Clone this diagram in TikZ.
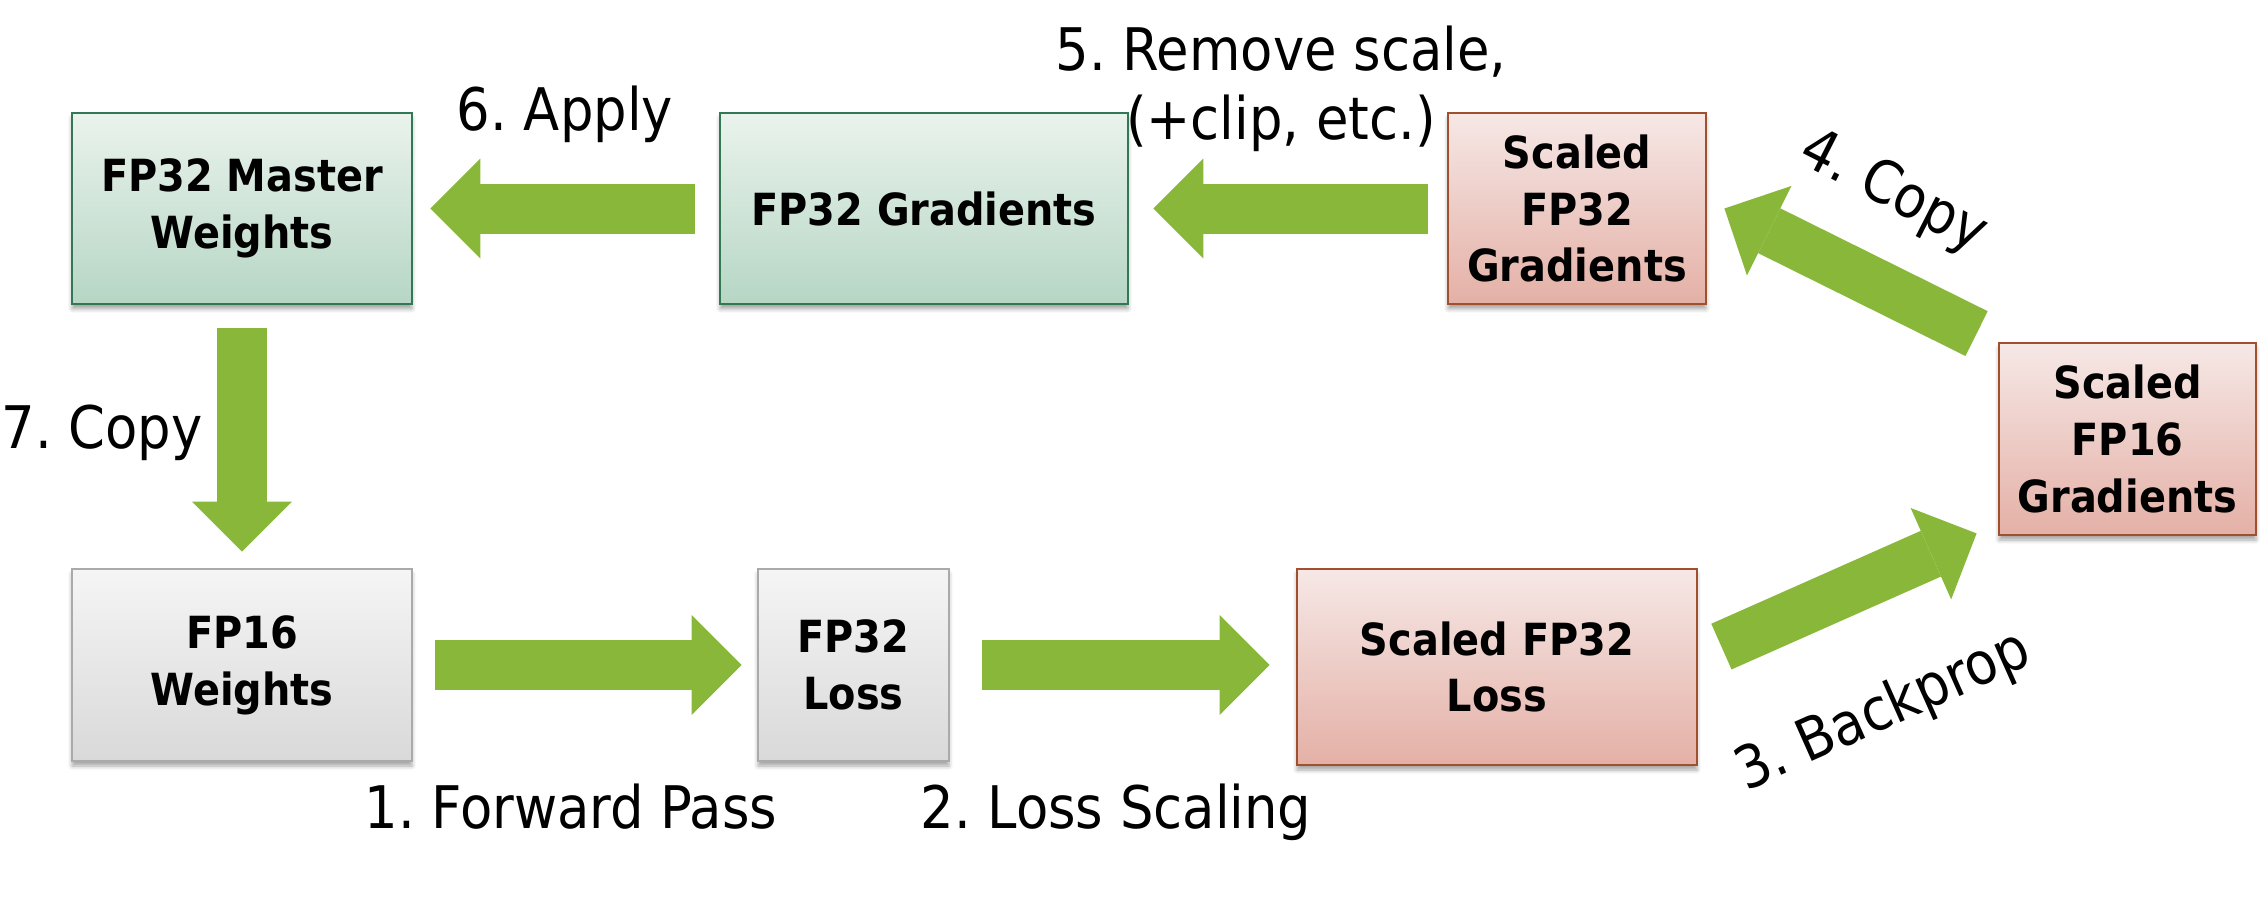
\documentclass[tikz,border=0pt]{standalone}
\usepackage{fontspec}
\setmainfont{DejaVu Sans Condensed}
\usetikzlibrary{arrows.meta,calc,shadows.blur}

\definecolor{arrowgreen}{RGB}{137,183,58}
\definecolor{greentop}{RGB}{234,243,237}
\definecolor{greenbot}{RGB}{182,214,196}
\definecolor{greenedge}{RGB}{50,120,85}
\definecolor{redtop}{RGB}{246,232,230}
\definecolor{redbot}{RGB}{228,176,166}
\definecolor{rededge}{RGB}{160,80,45}
\definecolor{greytop}{RGB}{245,245,245}
\definecolor{greybot}{RGB}{217,217,217}
\definecolor{greyedge}{RGB}{170,170,170}

\newcommand\boxfont{\fontsize{12.6}{16.2}\selectfont\bfseries}
\newcommand\lblfont{\fontsize{16.7}{19.6}\selectfont}
\frenchspacing

\tikzset{
  box/.style={draw, line width=0.8pt, minimum height=1.91cm, inner sep=0pt,
    align=center, font=\boxfont,
    blur shadow={shadow xshift=0pt, shadow yshift=-0.05cm,
      shadow blur radius=0.04cm, shadow opacity=35}},
  greenbox/.style={box, draw=greenedge, top color=greentop, bottom color=greenbot},
  redbox/.style={box, draw=rededge, top color=redtop, bottom color=redbot},
  greybox/.style={box, draw=greyedge, top color=greytop, bottom color=greybot},
  fatarrow/.style={draw=arrowgreen, line width=0.5cm,
    -{Triangle[length=0.5cm, width=1cm, line width=0pt]}},
  lbl/.style={font=\lblfont, inner sep=0pt},
}

\begin{document}
\begin{tikzpicture}
			\useasboundingbox (0,0) rectangle (22.68,9.08);
			
			%%%%% BOXES %%%%%
			\node[greenbox, minimum width=3.40cm] (master) at (2.42,6.995) {FP32 Master\\Weights};
			\node[greenbox, minimum width=4.08cm] (gradfp32) at (9.24,6.995) {FP32 Gradients};
			\node[redbox, minimum width=2.58cm] (sgrad32) at (15.77,6.995) {Scaled\\FP32\\Gradients};
			\node[redbox, minimum width=2.57cm, minimum height=1.92cm] (sgrad16) at (21.275,4.69) {Scaled\\FP16\\Gradients};
			
			\node[greybox, minimum width=3.40cm, minimum height=1.92cm] (w16) at (2.42,2.43) {FP16\\Weights};
			\node[greybox, minimum width=1.91cm, minimum height=1.92cm] (loss32) at (8.535,2.43) {FP32\\Loss};
			\node[redbox, minimum width=4.00cm, minimum height=1.96cm] (sloss) at (14.97,2.41) {Scaled FP32\\Loss};
			
			%%%%% ARROWS %%%%%
			\draw[fatarrow, shorten <=0.22cm, shorten >=0.15cm] (w16) -- (loss32);
			\draw[fatarrow, shorten <=0.32cm, shorten >=0.26cm] (loss32.east) -- (loss32.east -| sloss.west);
			
			\coordinate (bpA) at ($(sloss.north east)+(0.23,-0.79)$);
			\coordinate (bpB) at ($(sgrad16.south west)+(-0.21,0.03)$);
			\draw[fatarrow] (bpA) -- (bpB);
			
			\coordinate (cpA) at ($(sgrad16.north west)+(-0.21,0.08)$);
			\coordinate (cpB) at ($(sgrad32.east)+(0.17,0)$);
			\draw[fatarrow] (cpA) -- (cpB);
			
			\draw[fatarrow, shorten <=0.19cm, shorten >=0.24cm] (sgrad32) -- (gradfp32);
			\draw[fatarrow, shorten <=0.24cm, shorten >=0.17cm] (gradfp32) -- (master);
			\draw[fatarrow, shorten <=0.23cm, shorten >=0.16cm] (master) -- (w16);
			
			%%%%% LABELS %%%%%
			\node[lbl, anchor=base] (fwd) at (5.71,0.80) {1. Forward Pass};
			\node[lbl, anchor=base] (lscale) at (11.16,0.80) {2. Loss Scaling};
			\node[lbl, anchor=base, rotate=24] (bprop) at (18.90,1.81) {3. Backprop};
			\node[lbl, rotate=-27] (copya) at (18.93,7.15) {4. Copy};
			\node[lbl, align=center] (remove) at (12.81,8.19) {5. Remove scale,\\(+clip, etc.)};
			\node[lbl, anchor=base] (apply) at (5.65,7.78) {6. Apply};
			\node[lbl, anchor=base] (copyb) at (1.02,4.60) {7. Copy};
		\end{tikzpicture}
\end{document}
